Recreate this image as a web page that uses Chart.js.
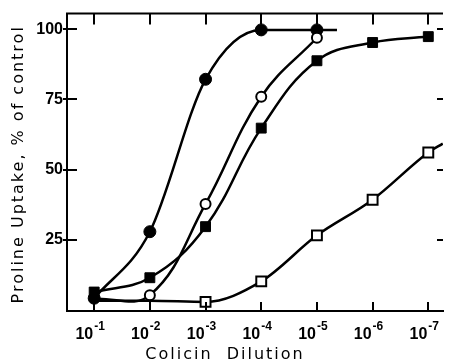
<!DOCTYPE html>
<html>
<head>
<meta charset="utf-8">
<script src="https://cdn.jsdelivr.net/npm/chart.js@4.4.0/dist/chart.umd.min.js"></script>
<style>
  html, body { margin: 0; padding: 0; background: #fff; }
  #wrap { width: 451px; height: 362px; position: relative; }
</style>
</head>
<body>
<div id="wrap"><canvas id="chart"></canvas></div>
<script>
// x values are the dilution exponents (1 -> 10^-1 ... 7 -> 10^-7)
const dilutionExp = [1, 2, 3, 4, 5, 6, 7];
const xTickLabels = ['-1', '-2', '-3', '-4', '-5', '-6', '-7'];
const yTickValues = [25, 50, 75, 100];

// filled circles (last point = end of the drawn curve, no marker)
const filledCircleX = [1, 2, 3, 4, 5, 5.36];
const filledCircleY = [4.2, 27.9, 82.2, 99.8, 99.8, 99.8];

// open circles (first point hidden under the 10^-1 marker)
const openCircleX = [1, 2, 3, 4, 5];
const openCircleY = [4.0, 5.3, 37.8, 76, 97];

// filled squares
const filledSquareX = [1, 2, 3, 4, 5, 6, 7];
const filledSquareY = [6.4, 11.5, 29.7, 64.8, 88.8, 95.3, 97.4];

// open squares (first two and last point are curve only)
const openSquareX = [1, 2, 3, 4, 5, 6, 7, 7.26];
const openSquareY = [3.3, 3.3, 2.9, 10.2, 26.6, 39.3, 56.1, 59.3];

function pts(xs, ys) {
  return xs.map((x, i) => ({ x: x, y: ys[i] }));
}

const tickFont = 'bold 16px "Liberation Sans"';

// frame, inward ticks, superscript x labels and titles
const framePlugin = {
  id: 'frame',
  afterDraw(chart) {
    const ctx = chart.ctx;
    const a = chart.chartArea;
    const xs = chart.scales.x;
    const ys = chart.scales.y;
    ctx.save();
    ctx.strokeStyle = '#000';
    ctx.lineWidth = 2;
    // top line
    ctx.beginPath();
    ctx.moveTo(a.left - 1, a.top);
    ctx.lineTo(a.right, a.top);
    ctx.stroke();
    // x ticks on bottom and top
    dilutionExp.forEach(v => {
      const px = Math.round(xs.getPixelForValue(v));
      ctx.beginPath();
      ctx.moveTo(px, a.bottom);
      ctx.lineTo(px, a.bottom - 9);
      ctx.moveTo(px, a.top);
      ctx.lineTo(px, a.top + 11);
      ctx.stroke();
    });
    // y ticks on left and right
    yTickValues.forEach(v => {
      const py = Math.round(ys.getPixelForValue(v));
      ctx.beginPath();
      ctx.moveTo(a.left - 4, py);
      ctx.lineTo(a.left + 10, py);
      ctx.moveTo(a.right, py);
      ctx.lineTo(a.right - 6, py);
      ctx.stroke();
    });
    // x tick labels 10^-n
    ctx.fillStyle = '#000';
    ctx.textBaseline = 'alphabetic';
    dilutionExp.forEach((v, i) => {
      const px = xs.getPixelForValue(v);
      ctx.font = tickFont;
      ctx.textAlign = 'right';
      ctx.fillText('10', px - 1, 339);
      ctx.font = 'bold 12px "Liberation Sans"';
      ctx.textAlign = 'left';
      ctx.fillText(xTickLabels[i], px, 330);
    });
    // x title
    ctx.font = '16px "DejaVu Sans"';
    ctx.textAlign = 'center';
    ctx.letterSpacing = '2px';
    ctx.fillText('Colicin  Dilution', 225, 359);
    // y title
    ctx.save();
    ctx.translate(23, (a.top + a.bottom) / 2 + 2);
    ctx.rotate(-Math.PI / 2);
    ctx.letterSpacing = '2px';
    ctx.fillText('Proline Uptake, % of control', 0, 0);
    ctx.restore();
    ctx.restore();
  }
};

const ctx = document.getElementById('chart').getContext('2d');
new Chart(ctx, {
  type: 'line',
  data: {
    datasets: [
      {
        data: pts(openSquareX, openSquareY),
        borderColor: '#000', borderWidth: 2.5,
        pointStyle: 'rect',
        pointRadius: openSquareX.map((x, i) => (i < 2 || i === openSquareX.length - 1) ? 0 : 7),
        pointBorderWidth: 2, pointBorderColor: '#000', pointBackgroundColor: '#fff',
        cubicInterpolationMode: 'monotone'
      },
      {
        data: pts(filledSquareX, filledSquareY),
        borderColor: '#000', borderWidth: 2.5,
        pointStyle: 'rect', pointRadius: 7,
        pointBorderWidth: 1, pointBorderColor: '#000', pointBackgroundColor: '#000',
        tension: 0.4
      },
      {
        data: pts(openCircleX, openCircleY),
        borderColor: '#000', borderWidth: 2.5,
        pointStyle: 'circle',
        pointRadius: openCircleX.map((x, i) => i === 0 ? 0 : 5),
        pointBorderWidth: 2, pointBorderColor: '#000', pointBackgroundColor: '#fff',
        tension: 0.4
      },
      {
        data: pts(filledCircleX, filledCircleY),
        borderColor: '#000', borderWidth: 2.5,
        pointStyle: 'circle',
        pointRadius: filledCircleX.map((x, i) => i === filledCircleX.length - 1 ? 0 : 6),
        pointBorderWidth: 1, pointBorderColor: '#000', pointBackgroundColor: '#000',
        cubicInterpolationMode: 'monotone'
      }
    ]
  },
  options: {
    responsive: true,
    maintainAspectRatio: false,
    animation: false,
    devicePixelRatio: 1,
    layout: { padding: { top: 10, right: 0, left: 0, bottom: 0 } },
    plugins: { legend: { display: false }, tooltip: { enabled: false } },
    scales: {
      x: {
        type: 'linear',
        min: 0.512,
        max: 7.264,
        afterBuildTicks: (s) => { s.ticks = dilutionExp.map(v => ({ value: v })); },
        afterFit: (s) => { s.height = 51; },
        ticks: { display: false },
        grid: { display: false, drawTicks: false },
        border: { display: true, color: '#000', width: 2 }
      },
      y: {
        type: 'linear',
        min: -0.35,
        max: 105.6,
        afterBuildTicks: (s) => { s.ticks = yTickValues.map(v => ({ value: v })); },
        afterFit: (s) => { s.width = 67; },
        ticks: { color: '#000', font: { family: 'Liberation Sans', size: 16, weight: 'bold' }, padding: 4 },
        grid: { display: false, drawTicks: false },
        border: { display: true, color: '#000', width: 2 }
      }
    }
  },
  plugins: [framePlugin]
});
</script>
</body>
</html>
